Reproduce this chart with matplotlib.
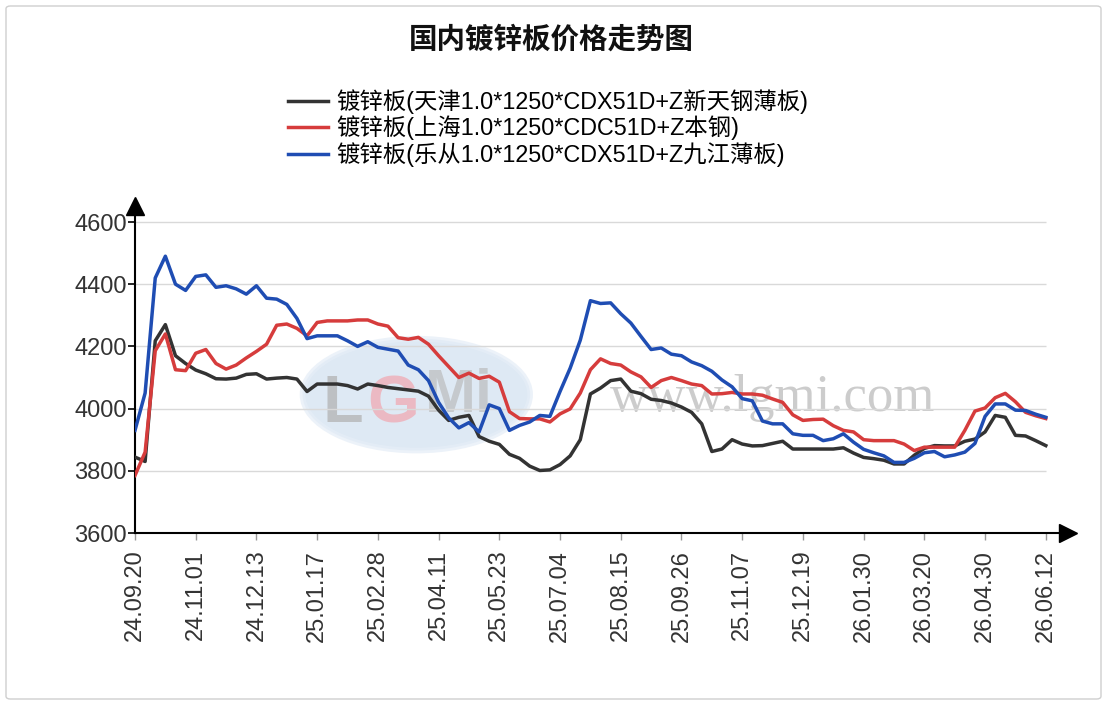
import matplotlib
matplotlib.use("Agg")
import matplotlib.pyplot as plt
from matplotlib.patches import Ellipse, FancyBboxPatch

plt.rcParams["font.family"] = ["Liberation Sans", "Noto Sans CJK SC", "DejaVu Sans"]

# -------------------------
# data
# -------------------------
tick_labels = ["24.09.20", "24.11.01", "24.12.13", "25.01.17", "25.02.28", "25.04.11",
               "25.05.23", "25.07.04", "25.08.15", "25.09.26", "25.11.07", "25.12.19",
               "26.01.30", "26.03.20", "26.04.30", "26.06.12"]
points_per_tick = 6

tianjin = [3844, 3830, 4218, 4270, 4170, 4145, 4124, 4112, 4096, 4095,
           4098, 4110, 4112, 4095, 4098, 4100, 4095, 4055, 4079, 4079,
           4079, 4074, 4063, 4079, 4074, 4068, 4064, 4060, 4056, 4040,
           3995, 3962, 3972, 3978, 3910, 3895, 3885, 3853, 3840, 3815,
           3801, 3803, 3820, 3848, 3900, 4047, 4066, 4090, 4095, 4056,
           4048, 4030, 4026, 4018, 4005, 3988, 3951, 3862, 3870, 3900,
           3886, 3880, 3881, 3888, 3895, 3870, 3870, 3870, 3870, 3870,
           3874, 3857, 3843, 3839, 3834, 3822, 3822, 3850, 3872, 3881,
           3880, 3880, 3895, 3902, 3925, 3978, 3972, 3914, 3912, 3897,
           3881]

shanghai = [3785, 3860, 4186, 4240, 4125, 4122, 4178, 4190, 4145, 4127,
            4140, 4163, 4184, 4207, 4268, 4272, 4258, 4234, 4277, 4282,
            4282, 4282, 4285, 4285, 4272, 4265, 4228, 4223, 4229, 4207,
            4170, 4135, 4100, 4114, 4097, 4104, 4085, 3990, 3968, 3967,
            3967, 3957, 3983, 3999, 4050, 4125, 4160, 4145, 4140, 4118,
            4102, 4068, 4090, 4100, 4090, 4079, 4074, 4047, 4048, 4052,
            4047, 4047, 4043, 4031, 4020, 3980, 3962, 3965, 3966, 3945,
            3930, 3925, 3900, 3897, 3897, 3897, 3886, 3865, 3876, 3876,
            3876, 3876, 3930, 3992, 4002, 4035, 4049, 4022, 3988, 3977,
            3968]

lecong = [3930, 4050, 4420, 4490, 4400, 4380, 4425, 4430, 4390, 4395,
          4385, 4368, 4395, 4355, 4352, 4335, 4290, 4225, 4234, 4234,
          4234, 4218, 4200, 4215, 4197, 4191, 4185, 4140, 4125, 4090,
          4020, 3970, 3938, 3955, 3925, 4012, 4000, 3930, 3946, 3957,
          3978, 3975, 4055, 4130, 4220, 4347, 4338, 4340, 4305, 4275,
          4232, 4190, 4195, 4175, 4170, 4150, 4138, 4120, 4092, 4070,
          4032, 4025, 3960, 3951, 3951, 3919, 3914, 3914, 3897, 3903,
          3919, 3892, 3869, 3858, 3848, 3827, 3827, 3840, 3858, 3862,
          3845, 3851, 3860, 3888, 3975, 4015, 4015, 3995, 3994, 3982,
          3972]

series_names = ["镀锌板(天津1.0*1250*CDX51D+Z新天钢薄板)",
                "镀锌板(上海1.0*1250*CDC51D+Z本钢)",
                "镀锌板(乐从1.0*1250*CDX51D+Z九江薄板)"]
series_colors = ["#333333", "#d63c3c", "#1f4db3"]
y_ticks = [3600, 3800, 4000, 4200, 4400, 4600]

W, H = 1107, 705


def main():
    fig = plt.figure(figsize=(W / 100, H / 100), dpi=100)
    fig.patches.append(FancyBboxPatch((6 / W, 6 / H), 1 - 12 / W, 1 - 12 / H,
                                      boxstyle="round,pad=0,rounding_size=0.004",
                                      transform=fig.transFigure, fill=False,
                                      edgecolor="#cfcfcf", linewidth=1))

    ax = fig.add_axes([135 / W, 1 - 533 / H, (1058 - 135) / W, (533 - 215) / H])
    n = len(tianjin)
    x = list(range(n))
    px_per_pt = 10.12
    ax.set_xlim(0, (1058 - 135) / px_per_pt)
    ax.set_ylim(3600, 4600 + 7 / 0.311)

    # watermark (faint logo + site name)
    ax.add_patch(Ellipse((27.8, 4045), 22.5, 360, facecolor="#d3e2f1", edgecolor="#e6eef7",
                         linewidth=4, alpha=0.75, zorder=0))
    ax.text(20.5, 4010, "L", fontsize=48, color="#b3b3b3", alpha=0.75, fontweight="bold",
            ha="center", va="center", zorder=1)
    ax.text(25.5, 4010, "G", fontsize=48, color="#f0aab3", alpha=0.75, fontweight="bold",
            ha="center", va="center", zorder=1)
    ax.text(32, 4040, "Mi", fontsize=44, color="#b8b8b8", alpha=0.65, fontweight="bold",
            ha="center", va="center", zorder=1)
    ax.text(63, 4035, "www.lgmi.com", fontsize=38, color="#c0c0c0", alpha=0.8,
            family=["Liberation Serif", "DejaVu Serif"], ha="center", va="center", zorder=1)

    # grid
    ax.hlines(y_ticks[1:], 0, n - 1, colors="#d9d9d9", linewidth=1, zorder=1)

    for vals, name, color in zip([tianjin, shanghai, lecong], series_names, series_colors):
        ax.plot(x, vals, color=color, linewidth=2.5, label=name, zorder=3,
                solid_joinstyle="round")

    for side in ["top", "right"]:
        ax.spines[side].set_visible(False)
    ax.spines["left"].set_linewidth(1.5)
    ax.spines["bottom"].set_linewidth(1.5)

    ax.set_yticks(y_ticks)
    ax.set_yticklabels([str(v) for v in y_ticks])
    ax.set_xticks(list(range(0, n, points_per_tick)))
    ax.set_xticklabels(tick_labels, rotation=90, va="top", ha="center")
    ax.tick_params(axis="y", direction="out", length=5, width=1.2, pad=1,
                   labelsize=17, labelcolor="#333333")
    ax.tick_params(axis="x", direction="out", length=5, width=1, pad=7,
                   labelsize=17, labelcolor="#333333", color="#999999")

    # axis arrows
    ax.plot([0], [1.027], marker="^", markersize=13, color="black",
            transform=ax.transAxes, clip_on=False)
    ax.plot([1.011], [0], marker=">", markersize=13, color="black",
            transform=ax.transAxes, clip_on=False)

    fig.text(551 / W, 1 - 40 / H, "国内镀锌板价格走势图", fontsize=20.5, fontweight="bold",
             ha="center", va="center", color="#111111")

    fig.legend(loc="upper left", bbox_to_anchor=(288 / W, 1 - 89 / H), frameon=False,
               fontsize=16.8, borderpad=0, borderaxespad=0, handlelength=1.7,
               handletextpad=0.35, labelspacing=0.08)

    fig.savefig("out.png", dpi=100)


if __name__ == "__main__":
    main()
